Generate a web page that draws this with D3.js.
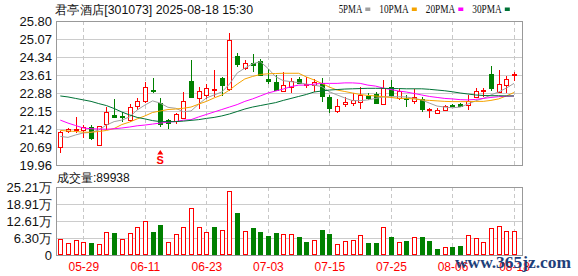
<!DOCTYPE html>
<meta charset="utf-8">
<script src="https://cdn.jsdelivr.net/npm/d3@7"></script>
<style>
  body { margin: 0; background: #fff; }
  svg { display: block; }
</style>
<div id="chart"></div>
<script>

// trading days shown (MM-DD), 2025-05-26 .. 2025-08-18
var dates = ["05-26","05-27","05-28","05-29","05-30","06-03","06-04","06-05","06-06","06-09",
  "06-10","06-11","06-12","06-13","06-16","06-17","06-18","06-19","06-20","06-23",
  "06-24","06-25","06-26","06-27","06-30","07-01","07-02","07-03","07-04","07-07",
  "07-08","07-09","07-10","07-11","07-14","07-15","07-16","07-17","07-18","07-21",
  "07-22","07-23","07-24","07-25","07-28","07-29","07-30","07-31","08-01","08-04",
  "08-05","08-06","08-07","08-08","08-11","08-12","08-13","08-14","08-15","08-18"];

var open = [20.68,21.34,21.38,21.36,21.49,20.77,21.61,21.97,21.93,21.79,
  22.32,22.56,22.99,22.49,21.79,21.72,21.90,23.37,22.67,22.79,
  22.99,23.48,23.03,24.38,23.88,24.08,24.19,23.46,23.34,22.95,
  23.14,23.46,23.23,23.20,23.27,22.71,22.16,22.46,22.46,22.53,
  22.76,22.84,22.43,23.11,22.67,22.69,22.56,22.63,22.16,22.06,
  22.22,22.38,22.44,22.39,22.71,22.96,23.65,22.93,23.20,23.58];
var high = [21.34,21.47,21.89,21.58,21.58,21.56,22.30,22.64,22.12,22.43,
  22.67,23.33,23.48,22.67,21.81,22.08,22.93,24.22,23.14,23.25,
  23.81,23.54,25.33,24.49,24.22,24.46,24.25,23.84,23.61,23.74,
  23.48,23.54,23.54,23.44,23.48,22.80,22.63,22.73,22.89,23.14,
  22.87,22.93,23.41,23.41,23.03,22.80,23.03,22.73,22.26,22.26,
  22.39,22.42,22.49,22.79,23.07,23.07,23.98,23.81,23.57,23.72];
var low = [20.46,21.25,21.25,21.06,20.97,20.77,21.38,21.88,21.72,21.71,
  22.19,22.46,22.87,21.51,21.42,21.61,21.85,22.67,22.22,22.63,
  22.73,22.76,22.96,23.95,23.81,23.74,23.58,23.25,23.00,22.93,
  22.87,23.23,23.07,22.93,22.53,22.08,22.08,22.30,22.35,22.22,
  22.60,22.43,22.39,22.73,22.60,22.33,22.43,22.12,21.88,22.05,
  22.16,22.30,22.32,22.19,22.67,22.73,22.97,22.87,22.87,23.38];
var close = [21.29,21.41,21.42,21.50,21.04,21.55,22.10,21.90,21.90,22.32,
  22.54,23.11,22.93,21.64,21.67,22.02,22.57,22.71,22.95,23.07,
  23.03,23.18,25.03,24.06,24.10,24.00,23.62,23.38,23.03,23.20,
  23.38,23.29,23.26,23.34,22.73,22.26,22.35,22.53,22.60,22.80,
  22.69,22.46,23.07,22.77,22.97,22.63,22.73,22.24,22.22,22.19,
  22.37,22.35,22.34,22.57,22.95,23.00,23.10,23.25,23.44,23.64];

// volume, in 万
var volume = [6.05,4.33,5.44,4.69,4.33,3.95,8.40,8.15,5.81,8.03,
  10.26,12.48,8.53,11.12,4.69,7.66,10.26,17.42,10.26,8.40,
  10.38,9.15,23.60,15.57,8.77,10.00,8.53,7.04,8.15,7.66,
  7.66,6.67,4.82,5.44,9.15,7.66,4.20,5.07,5.44,7.29,
  4.45,4.45,10.26,6.67,4.82,5.19,6.55,6.55,5.07,2.22,
  2.84,2.84,3.34,7.29,6.18,4.69,9.88,10.75,8.77,8.9938];

var ma5 = [21.12,21.08,21.18,21.26,21.28,21.38,21.58,21.72,21.78,21.91,
  22.19,22.39,22.56,22.47,22.30,22.26,22.12,22.15,22.43,22.68,
  22.80,22.92,23.24,23.69,23.89,24.06,24.15,23.88,23.54,23.38,
  23.34,23.30,23.24,23.20,23.14,22.93,22.80,22.68,22.57,22.57,
  22.60,22.66,22.72,22.73,22.73,22.72,22.66,22.60,22.47,22.35,
  22.31,22.28,22.31,22.43,22.56,22.66,22.80,22.92,23.08,23.27];
var ma10 = [21.36,21.34,21.32,21.29,21.29,21.32,21.36,21.44,21.60,21.70,
  21.83,21.95,22.09,22.15,22.21,22.23,22.26,22.31,22.43,22.54,
  22.68,22.80,23.00,23.24,23.45,23.55,23.63,23.66,23.67,23.68,
  23.68,23.68,23.53,23.41,23.27,23.12,23.00,22.94,22.88,22.82,
  22.78,22.76,22.73,22.70,22.66,22.66,22.64,22.60,22.58,22.56,
  22.54,22.53,22.53,22.53,22.54,22.54,22.58,22.64,22.76,22.90];
var ma20 = [21.78,21.66,21.56,21.46,21.43,21.42,21.41,21.43,21.46,21.50,
  21.55,21.58,21.62,21.66,21.70,21.72,21.78,21.80,21.91,22.01,
  22.11,22.21,22.31,22.41,22.54,22.64,22.76,22.88,22.96,23.04,
  23.14,23.20,23.20,23.24,23.27,23.27,23.27,23.29,23.29,23.27,
  23.20,23.16,23.08,23.02,22.96,22.92,22.86,22.80,22.74,22.70,
  22.66,22.64,22.61,22.60,22.62,22.66,22.70,22.73,22.75,22.76];
var ma30 = [22.76,22.72,22.66,22.60,22.54,22.45,22.37,22.25,22.11,21.99,
  21.89,21.83,21.76,21.72,21.72,21.72,21.74,21.77,21.80,21.85,
  21.89,21.95,22.03,22.13,22.23,22.31,22.37,22.43,22.49,22.58,
  22.66,22.74,22.82,22.92,22.96,23.00,23.02,23.04,23.05,23.06,
  23.07,23.07,23.07,23.06,23.06,23.05,23.05,23.05,23.03,23.00,
  22.97,22.93,22.88,22.84,22.80,22.78,22.77,22.77,22.76,22.76];

var priceTicks = [25.80,25.07,24.34,23.61,22.88,22.15,21.42,20.69,19.96];
var volTicks = [0,6.30,12.61,18.91,25.21];
var volTickLabels = ["0","6.30万","12.61万","18.91万","25.21万"];
var dateTicks = ["05-29","06-11","06-23","07-03","07-15","07-25","08-06","08-18"];
var signalDates = ["06-13"];

var maNames = ["5PMA","10PMA","20PMA","30PMA"];
var maColors = ["#a0a0a0","#f5a300","#ff00ff","#007236"];

var width = 578, height = 276;
var plot = {left: 56, right: 522, top: 21, bottom: 165, vTop: 187, vBottom: 255};
var RED = "#ff0000", GREEN = "#008000";

var svg = d3.select("#chart").append("svg")
    .attr("width", width)
    .attr("height", height)
    .style("font-family", "'Liberation Sans', Arial, sans-serif");

var x = d3.scalePoint().domain(dates).range([60.3, 514]);
var y = d3.scaleLinear().domain([19.96, 25.80]).range([plot.bottom, plot.top]);
var yv = d3.scaleLinear().domain([0, 25.21]).range([plot.vBottom, plot.vTop]);

var data = dates.map(function(d, i) {
  return {date: d, o: open[i], h: high[i], l: low[i], c: close[i], v: volume[i],
          up: close[i] >= open[i],
          volUp: i === 0 ? true : close[i] >= close[i - 1]};
});

// ---------- grids ----------
var grid = svg.append("g").attr("shape-rendering", "crispEdges");
grid.selectAll(".hp").data(priceTicks).enter().append("line")
    .attr("x1", plot.left).attr("x2", plot.right)
    .attr("y1", function(d) { return Math.round(y(d)) + 0.5; })
    .attr("y2", function(d) { return Math.round(y(d)) + 0.5; })
    .attr("stroke", "#cccccc");
grid.selectAll(".hv").data(volTicks).enter().append("line")
    .attr("x1", plot.left).attr("x2", plot.right)
    .attr("y1", function(d) { return Math.round(yv(d)) + 0.5; })
    .attr("y2", function(d) { return Math.round(yv(d)) + 0.5; })
    .attr("stroke", "#cccccc");
[[plot.top, plot.bottom], [plot.vTop, plot.vBottom]].forEach(function(r) {
  grid.selectAll(null).data(dateTicks).enter().append("line")
      .attr("x1", function(d) { return Math.round(x(d)) + 0.5; })
      .attr("x2", function(d) { return Math.round(x(d)) + 0.5; })
      .attr("y1", r[0]).attr("y2", r[1])
      .attr("stroke", "#c8c8c8")
      .attr("stroke-dasharray", "4,3");
});

// ---------- candles ----------
var bw = 5;
var cg = svg.append("g").attr("shape-rendering", "crispEdges");
var candle = cg.selectAll(".candle").data(data).enter().append("g");

candle.append("line")
    .attr("x1", function(d) { return Math.round(x(d.date)) + 0.5; })
    .attr("x2", function(d) { return Math.round(x(d.date)) + 0.5; })
    .attr("y1", function(d) { return y(d.h); })
    .attr("y2", function(d) { return y(d.l); })
    .attr("stroke", function(d) { return d.up ? RED : GREEN; });

candle.append("rect")
    .attr("x", function(d) { return Math.round(x(d.date)) - 2 + 0.5; })
    .attr("y", function(d) { return Math.round(y(Math.max(d.o, d.c))) + 0.5; })
    .attr("width", bw - 1)
    .attr("height", function(d) { return Math.max(1, Math.round(Math.abs(y(d.o) - y(d.c)))); })
    .attr("fill", function(d) { return d.up ? "#fff" : GREEN; })
    .attr("stroke", function(d) { return d.up ? RED : GREEN; });

// ---------- moving averages ----------
var line = d3.line()
    .x(function(d, i) { return x(dates[i]); })
    .y(function(d) { return y(d); });
[ma5, ma10, ma20, ma30].forEach(function(s, k) {
  svg.append("path")
      .datum(s)
      .attr("d", line)
      .attr("fill", "none")
      .attr("stroke", maColors[k])
      .attr("stroke-width", 1);
});

// signal marker
var sig = svg.append("g").attr("fill", RED);
signalDates.forEach(function(d) {
  var cx = x(d);
  sig.append("path")
      .attr("d", "M" + cx + ",150 L" + (cx - 3) + ",154.5 L" + (cx + 3) + ",154.5 Z");
  sig.append("text")
      .attr("x", cx).attr("y", 164)
      .attr("text-anchor", "middle")
      .attr("font-size", "11px")
      .attr("font-weight", "bold")
      .text("S");
});

// ---------- volume ----------
var vg = svg.append("g").attr("shape-rendering", "crispEdges");
vg.selectAll("rect").data(data).enter().append("rect")
    .attr("x", function(d) { return Math.round(x(d.date)) - 2 + 0.5; })
    .attr("y", function(d) { return Math.round(yv(d.v)) + 0.5; })
    .attr("width", bw - 1)
    .attr("height", function(d) { return plot.vBottom - Math.round(yv(d.v)) - 1; })
    .attr("fill", function(d) { return d.volUp ? "#fff" : GREEN; })
    .attr("stroke", function(d) { return d.volUp ? RED : GREEN; });

// ---------- frames ----------
var fr = svg.append("g").attr("shape-rendering", "crispEdges")
    .attr("fill", "none").attr("stroke", "#999999");
fr.append("rect").attr("x", plot.left + 0.5).attr("y", plot.top + 0.5)
    .attr("width", plot.right - plot.left).attr("height", plot.bottom - plot.top);
fr.append("rect").attr("x", plot.left + 0.5).attr("y", plot.vTop + 0.5)
    .attr("width", plot.right - plot.left).attr("height", plot.vBottom - plot.vTop);

// ---------- axes ----------
var yAxis = svg.append("g")
    .attr("transform", "translate(" + plot.left + ",0)")
    .call(d3.axisLeft(y).tickValues(priceTicks).tickSize(0).tickPadding(4)
      .tickFormat(d3.format(".2f")));
var vAxis = svg.append("g")
    .attr("transform", "translate(" + plot.left + ",0)")
    .call(d3.axisLeft(yv).tickValues(volTicks).tickSize(0).tickPadding(4)
      .tickFormat(function(d, i) { return volTickLabels[i]; }));
var xAxis = svg.append("g")
    .attr("transform", "translate(0," + plot.vBottom + ")")
    .call(d3.axisBottom(x).tickValues(dateTicks).tickSize(0).tickPadding(5));

[yAxis, vAxis, xAxis].forEach(function(a) {
  a.select(".domain").remove();
  a.selectAll("text").attr("font-family", "'Liberation Sans', Arial, sans-serif");
});
yAxis.selectAll("text").attr("font-size", "13px").attr("fill", "#111");
vAxis.selectAll("text").attr("font-size", "13px").attr("fill", "#111");
xAxis.selectAll("text").attr("font-size", "12px").attr("fill", RED).attr("dy", "0.9em");

// ---------- titles / legend ----------
svg.append("text")
    .attr("x", 55).attr("y", 13.5)
    .attr("font-size", "12px").attr("fill", "#111")
    .attr("textLength", 198).attr("lengthAdjust", "spacingAndGlyphs")
    .text("君亭酒店[301073] 2025-08-18 15:30");

var lx = 338.7;
maNames.forEach(function(n, k) {
  var w = n.length * 5.9;
  svg.append("text")
      .attr("x", lx).attr("y", 13)
      .attr("font-size", "12.5px").attr("fill", "#111")
      .attr("font-family", "'Liberation Serif', serif")
      .attr("textLength", w).attr("lengthAdjust", "spacingAndGlyphs")
      .text(n);
  svg.append("rect")
      .attr("x", lx + w + 3).attr("y", 7.5)
      .attr("width", 5).attr("height", 3.5)
      .attr("fill", maColors[k]);
  lx += w + 3 + 5 + 9;
});

svg.append("text")
    .attr("x", 57).attr("y", 182)
    .attr("font-size", "12px").attr("fill", "#111")
    .text("成交量:" + Math.round(volume[volume.length - 1] * 10000));

// site mark, bottom right
svg.append("text")
    .attr("x", 455).attr("y", 268)
    .attr("font-size", "16px")
    .attr("font-family", "'Liberation Serif', serif")
    .attr("font-weight", "bold")
    .attr("fill", "#1f3f7a")
    .attr("textLength", 116).attr("lengthAdjust", "spacingAndGlyphs")
    .text("www.365jz.com");

</script>
